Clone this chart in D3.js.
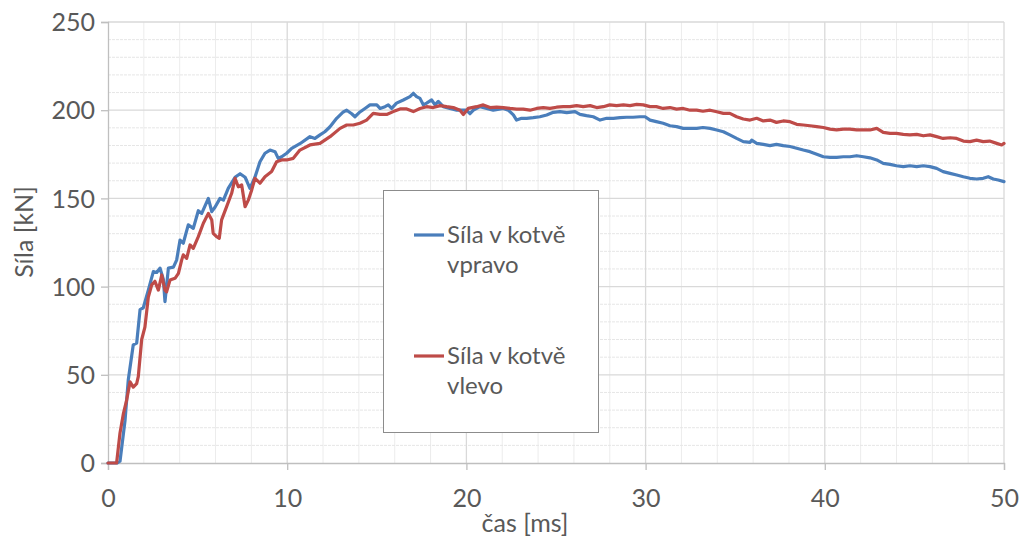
<!DOCTYPE html>
<html>
<head>
<meta charset="utf-8">
<script src="https://cdn.jsdelivr.net/npm/d3@7"></script>
<style>
  html, body { margin: 0; padding: 0; background: #ffffff; }
  svg { display: block; font-family: Lato, "Open Sans", "Liberation Sans", sans-serif; }
</style>
</head>
<body>
<svg id="chart" width="1021" height="542"></svg>
<script>
// ---- data ----
const seriesNames = ["Síla v kotvě vpravo", "Síla v kotvě vlevo"];
const xTicks = [0, 10, 20, 30, 40, 50];
const yTicks = [0, 50, 100, 150, 200, 250];
const xLabel = "čas [ms]";
const yLabel = "Síla [kN]";

const tBlue = [0, 0.5, 0.67, 0.95, 1.13, 1.41, 1.6, 1.79, 1.97, 2.25, 2.53, 2.72, 2.9, 3.09, 3.18, 3.37, 3.65, 3.83,
  4.02, 4.2, 4.48, 4.76, 5.04, 5.23, 5.6, 5.79, 5.97, 6.25, 6.44, 6.71, 7.09, 7.37, 7.65, 7.74, 7.92, 8.2, 8.48, 8.76,
  9.04, 9.32, 9.5, 9.69, 9.97, 10.25, 10.71, 11.27, 11.55, 11.83, 12.1, 12.39, 12.76, 13.13, 13.32, 13.6, 13.78, 14.06,
  14.34, 14.62, 15.0, 15.18, 15.46, 15.64, 15.83, 16.1, 16.48, 16.85, 17.04, 17.22, 17.41, 17.6, 17.78, 18.06, 18.25,
  18.43, 18.71, 19.08, 19.46, 19.73, 20.0, 20.2, 20.39, 20.76, 21.13, 21.5, 22.06, 22.34, 22.62, 22.8, 23.08, 23.36,
  23.73, 24.1, 24.48, 24.85, 25.22, 25.6, 26.06, 26.34, 26.7, 27.08, 27.46, 27.83, 28.2, 28.57, 28.94, 29.3, 29.69,
  29.97, 30.25, 30.6, 30.98, 31.36, 31.73, 32.1, 32.48, 32.85, 33.2, 33.6, 33.97, 34.34, 34.7, 35.08, 35.45, 35.83,
  35.92, 36.2, 36.57, 36.94, 37.3, 37.68, 38.06, 38.43, 38.8, 39.17, 39.55, 39.92, 40.29, 40.66, 41.03, 41.4, 41.78,
  42.15, 42.52, 42.9, 43.26, 43.64, 44.0, 44.38, 44.75, 45.13, 45.5, 45.87, 46.24, 46.6, 46.99, 47.36, 47.73, 48.1,
  48.47, 48.84, 49.12, 49.4, 49.68, 50.0];
const blue = [0, 0, 1, 24, 47, 67, 68, 87, 88, 98, 108.5, 108, 110.5, 104, 91.5, 110.5, 111, 115,
  126.4, 124.6, 135, 133, 143, 141.5, 150, 142.5, 145, 150, 149, 155.7, 162, 164, 162, 160, 155.7, 162, 170.8, 175.6,
  177.4, 176.5, 172.7, 173.6, 175.6, 178.4, 181, 185, 184, 186, 187.8, 190.6, 195.4, 199, 200, 198, 196.3, 199,
  201, 203, 203, 201, 202, 203, 201, 204, 205.8, 207.7, 209.6, 207.7, 206.7, 203, 204, 205.8, 203,
  205, 202, 201, 200, 200, 200, 198, 200, 202, 201, 200, 201, 200, 197.3, 194.4, 195.4, 195.4,
  195.8, 196.3, 197.3, 198.8, 199.2, 198.6, 199.2, 197.6, 196.9, 196.3, 194.4, 195.4, 195.4, 195.8, 196, 196, 196.3,
  196.3, 194.4, 193.5, 192.6, 191.2, 190.7, 189.7, 189.7, 189.7, 190.2, 189.7, 188.8, 187.8, 186, 184, 182.2, 181.8,
  183, 181.2, 180.6, 179.9, 180.6, 179.9, 179.4, 178.4, 177.4, 176.5, 175, 173.6, 173.3, 173.3, 173.6, 173.6, 174.2,
  173.6, 173, 171.8, 169.9, 169.3, 168.5, 168, 168.5, 168, 168.5, 168, 167, 165.2, 164.2, 163.3, 162.3, 161.4,
  161, 161.4, 162.3, 161, 160.4, 159.5];

const tRed = [0, 0.48, 0.58, 0.67, 0.86, 1.04, 1.23, 1.41, 1.6, 1.69, 1.88, 2.06, 2.25, 2.44, 2.62, 2.81, 3.0, 3.18,
  3.27, 3.46, 3.74, 3.93, 4.11, 4.2, 4.39, 4.58, 4.76, 5.04, 5.32, 5.6, 5.79, 5.87, 6.06, 6.21, 6.34, 6.62, 6.9, 7.09,
  7.27, 7.46, 7.65, 7.83, 8.02, 8.2, 8.48, 8.76, 9.13, 9.41, 9.69, 9.97, 10.34, 10.71, 11.27, 11.83, 12.39, 12.95,
  13.32, 13.69, 14.06, 14.43, 14.8, 15.18, 15.55, 15.92, 16.3, 16.67, 17.04, 17.41, 17.78, 18.15, 18.53, 18.9, 19.27,
  19.64, 19.83, 20.1, 20.57, 20.94, 21.32, 21.69, 22.06, 22.43, 22.8, 23.17, 23.55, 23.92, 24.29, 24.66, 25.03, 25.4,
  25.78, 26.15, 26.52, 26.9, 27.27, 27.64, 28.0, 28.38, 28.76, 29.13, 29.5, 29.87, 30.25, 30.6, 30.98, 31.36, 31.73,
  32.1, 32.48, 32.85, 33.2, 33.6, 33.97, 34.34, 34.7, 35.08, 35.45, 35.83, 36.2, 36.57, 36.94, 37.3, 37.68, 38.06,
  38.43, 38.8, 39.17, 39.55, 39.92, 40.29, 40.66, 41.03, 41.4, 41.78, 42.15, 42.52, 42.9, 43.26, 43.64, 44.0, 44.38,
  44.75, 45.13, 45.5, 45.87, 46.24, 46.6, 46.99, 47.36, 47.73, 48.1, 48.47, 48.84, 49.2, 49.59, 49.87, 50.0];
const red = [0, 0, 9, 17, 28, 35.7, 46, 43, 45, 49, 70, 77, 94, 101, 103, 98, 106.6, 98,
  97, 103.7, 104.7, 107.5, 115, 118, 116, 123.6, 121.7, 128.3, 135.9, 141.5, 137.8, 130.2, 128.3, 127.4, 137.8, 145.3, 152.9, 161.4,
  156.6, 157.6, 145.3, 149, 154.8, 161.4, 158.6, 162.3, 165.2, 170.8, 171.8, 171.8, 172.7, 177.4, 180.3, 181.2, 185, 189.7,
  191.6, 191.6, 192.6, 194.4, 198.2, 197.6, 197.6, 199.2, 200.7, 200.7, 199.2, 201, 202, 201.5, 202.6, 202, 201.5,
  200, 197.6, 201, 202, 203, 201.5, 201.7, 201.5, 201, 200.6, 200.6, 200, 201, 201.5, 201, 201.7, 202,
  202, 202.6, 202, 202.6, 201.5, 202, 203, 202.6, 203, 202.6, 203.3, 203, 202, 202, 201, 201.5, 200.6,
  201, 200, 200, 199.4, 200, 199.1, 198.2, 198.2, 196.3, 195, 194.4, 195.4, 193.9, 194.4, 193.1, 193.9, 193.5,
  192, 191.6, 191.2, 190.7, 190.2, 189.3, 188.8, 189.3, 189.3, 188.8, 188.8, 188.8, 189.7, 187.4, 186.9, 186.9, 186.3,
  186, 186.3, 185.5, 186, 185, 184, 184.4, 184, 182.5, 182.2, 183, 182.2, 182.5, 181.2, 180.3, 181.2];

const colors = ["#4A7EBB", "#BE4B48"];

// ---- chart ----
const svg = d3.select("#chart");
const margin = { left: 108, right: 17, top: 22, bottom: 79 };
const W = 1021, H = 542;
const x = d3.scaleLinear().domain([0, 50]).range([margin.left, W - margin.right]);
const y = d3.scaleLinear().domain([0, 250]).range([H - margin.bottom, margin.top]);

const textColor = "#595959";
const fs = 25;
const legendFs = 24;

// minor gridlines
const gMinor = svg.append("g");
gMinor.selectAll("line.vx").data(d3.range(0, 51, 2).filter(v => v % 10 !== 0)).join("line")
  .attr("x1", d => x(d)).attr("x2", d => x(d)).attr("y1", y(0)).attr("y2", y(250))
  .attr("stroke", "#ececec").attr("stroke-width", 1);
gMinor.selectAll("line.hy").data(d3.range(0, 251, 10).filter(v => v % 50 !== 0)).join("line")
  .attr("y1", d => y(d)).attr("y2", d => y(d)).attr("x1", x(0)).attr("x2", x(50))
  .attr("stroke", "#e6e6e6").attr("stroke-width", 1).attr("stroke-dasharray", "3,1");

// major gridlines
const gMajor = svg.append("g");
gMajor.selectAll("line.v").data(xTicks.filter(d => d > 0)).join("line")
  .attr("x1", d => x(d)).attr("x2", d => x(d)).attr("y1", y(0)).attr("y2", y(250))
  .attr("stroke", "#d9d9d9").attr("stroke-width", 1.3);
gMajor.selectAll("line.h").data(yTicks.filter(d => d > 0)).join("line")
  .attr("y1", d => y(d)).attr("y2", d => y(d)).attr("x1", x(0)).attr("x2", x(50))
  .attr("stroke", "#d9d9d9").attr("stroke-width", 1.3);

// axes
const xAxis = d3.axisBottom(x).tickValues(xTicks).tickSize(7).tickPadding(19).tickFormat(d3.format("d"));
const yAxis = d3.axisLeft(y).tickValues(yTicks).tickSize(7).tickPadding(6).tickFormat(d3.format("d"));
const gx = svg.append("g").attr("transform", `translate(0,${y(0)})`).call(xAxis);
const gy = svg.append("g").attr("transform", `translate(${x(0)},0)`).call(yAxis);
[gx, gy].forEach(g => {
  g.select(".domain").attr("stroke", "#bfbfbf").attr("stroke-width", 1.3);
  g.selectAll(".tick line").attr("stroke", "#bfbfbf").attr("stroke-width", 1.3);
  g.selectAll(".tick text").attr("fill", textColor).attr("font-size", fs)
    .attr("font-family", "Lato, 'Open Sans', sans-serif");
});
gx.selectAll(".tick text").attr("dy", "0.71em");
gy.selectAll(".tick text").attr("dy", "0.35em");

// axis titles
svg.append("text").attr("x", 525).attr("y", 532)
  .attr("text-anchor", "middle").attr("fill", textColor).attr("font-size", fs).text(xLabel);
svg.append("text").attr("transform", `translate(33,232) rotate(-90)`)
  .attr("text-anchor", "middle").attr("fill", textColor).attr("font-size", fs).text(yLabel);

// lines
const line = d3.line().x(d => x(d[0])).y(d => y(d[1]));
const datasets = [d3.zip(tBlue, blue), d3.zip(tRed, red)];
datasets.forEach((ds, i) => {
  svg.append("path").datum(ds).attr("d", line)
    .attr("fill", "none").attr("stroke", colors[i]).attr("stroke-width", 3.2)
    .attr("stroke-linejoin", "round").attr("stroke-linecap", "round");
});

// legend
const lg = svg.append("g");
lg.append("rect").attr("x", 383.5).attr("y", 190.5).attr("width", 215).attr("height", 242)
  .attr("fill", "#ffffff").attr("stroke", "#8c8c8c").attr("stroke-width", 1);
const legendItems = [
  { lines: ["Síla v kotvě", "vpravo"], y: 235 },
  { lines: ["Síla v kotvě", "vlevo"], y: 356 }
];
legendItems.forEach((it, i) => {
  lg.append("line").attr("x1", 414).attr("x2", 444).attr("y1", it.y).attr("y2", it.y)
    .attr("stroke", colors[i]).attr("stroke-width", 3.2);
  it.lines.forEach((t, j) => {
    lg.append("text").attr("x", 447).attr("y", it.y + 8 + j * 30)
      .attr("fill", textColor).attr("font-size", legendFs).text(t);
  });
});
</script>
</body>
</html>
